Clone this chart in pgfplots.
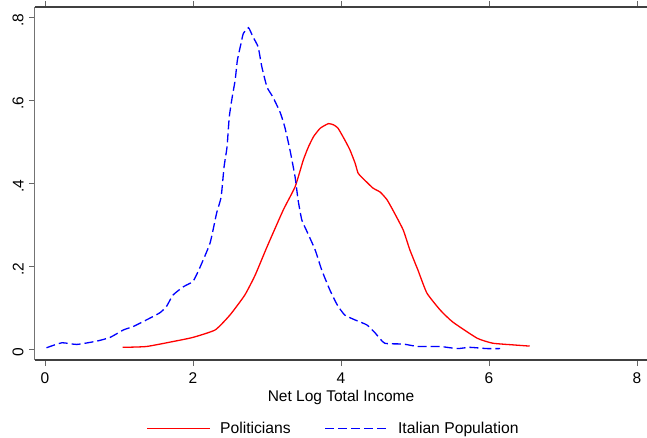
\documentclass[border=0pt]{standalone}
\usepackage{pgfplots}
\pgfplotsset{compat=1.18}
\usepackage{fontspec}
\setmainfont{Liberation Sans}
\begin{document}
\fontsize{15.5}{18}\selectfont
\begin{tikzpicture}
\useasboundingbox (-35pt,-77pt) rectangle (612pt,360pt);
\begin{axis}[
  anchor=south west, at={(0,0)},
  scale only axis, width=612pt, height=353pt,
  xmin=-0.135, xmax=8.135, ymin=-0.0265, ymax=0.824,
  axis line style={draw=none},
  xtick={0,2,4,6,8}, ytick={0,0.2,0.4,0.6,0.8},
  yticklabels={0,.2,.4,.6,.8},
  tick align=outside, major tick length=6pt,
  tick style={black!60, line width=0.6pt},
  /pgf/number format/assume math mode=true,
  ticklabel style={font=\fontsize{15.5}{18}\selectfont},
  yticklabel style={rotate=90, anchor=south, yshift=0pt, xshift=-3pt},
  xticklabel style={yshift=-1pt},
  xlabel={Net Log Total Income},
  xlabel style={font=\fontsize{15.5}{18}\selectfont, yshift=4pt},
  legend columns=2,
  legend style={draw=none, at={(0.488,-0.195)}, anchor=center, font=\fontsize{15.7}{18}\selectfont,
    /tikz/every even column/.append style={column sep=32pt},
    /tikz/every odd column/.append style={column sep=7pt}},
  legend cell align=left,
  legend image code/.code={\draw[#1] (0pt,0pt) -- (63pt,0pt);},
  clip=false,
]
\addplot[red, line width=1.3pt, smooth, tension=0.3] coordinates {
(1.05,0.004) (1.37,0.006) (1.73,0.018) (2.00,0.028) (2.30,0.046) (2.50,0.082)
(2.70,0.130) (2.84,0.178) (3.00,0.246) (3.22,0.335) (3.38,0.391) (3.49,0.455)
(3.56,0.487) (3.63,0.512) (3.72,0.532) (3.83,0.543) (3.90,0.540) (3.96,0.532)
(4.05,0.504) (4.12,0.480) (4.19,0.448) (4.23,0.424) (4.28,0.414) (4.43,0.388)
(4.53,0.378) (4.62,0.360) (4.70,0.335) (4.84,0.287) (4.93,0.239) (5.04,0.190)
(5.16,0.135) (5.34,0.094) (5.51,0.065) (5.84,0.026) (6.05,0.014) (6.32,0.010)
(6.55,0.007)
};
\addlegendentry{Politicians}
\addplot[blue, line width=1.3pt, dash pattern=on 9pt off 4pt, smooth, tension=0.3] coordinates {
(0.02,0.003) (0.23,0.015) (0.43,0.011) (0.70,0.019) (0.88,0.028) (1.06,0.046)
(1.19,0.054) (1.37,0.070) (1.55,0.087) (1.64,0.102) (1.73,0.130) (1.87,0.150)
(2.00,0.163) (2.09,0.195) (2.23,0.255) (2.32,0.328) (2.38,0.366) (2.42,0.439)
(2.46,0.487) (2.49,0.559) (2.53,0.607) (2.57,0.648) (2.60,0.696) (2.65,0.737)
(2.68,0.760) (2.75,0.774) (2.81,0.752) (2.88,0.728) (2.93,0.680) (3.00,0.631)
(3.08,0.607) (3.18,0.569) (3.24,0.535) (3.31,0.480) (3.38,0.414) (3.42,0.359)
(3.47,0.311) (3.53,0.287) (3.65,0.239) (3.74,0.190) (3.85,0.142) (3.95,0.106)
(4.05,0.082) (4.19,0.070) (4.35,0.058) (4.46,0.039) (4.59,0.014) (4.84,0.012)
(5.04,0.006) (5.34,0.006) (5.57,0.001) (5.74,0.004) (5.97,0.001) (6.15,0.001)
};
\addlegendentry{Italian Population}
\draw[black!55, line width=1pt] (rel axis cs:0,0) -- (rel axis cs:0,1);
\draw[black!75, line width=1.2pt] (rel axis cs:0,0) -- (rel axis cs:1,0);
\draw[black!75, line width=1.2pt] (rel axis cs:0,1) -- (rel axis cs:1,1);
\end{axis}
\end{tikzpicture}
\end{document}
